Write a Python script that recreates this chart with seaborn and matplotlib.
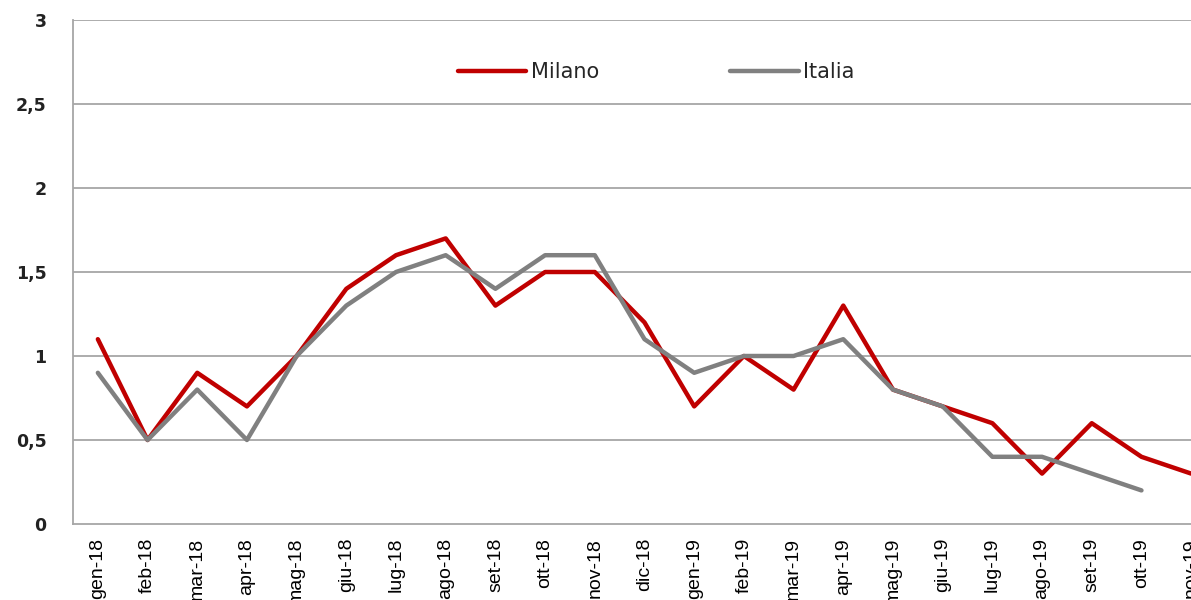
import numpy as np
import pandas as pd
import matplotlib
matplotlib.use("Agg")
import matplotlib.pyplot as plt
import seaborn as sns

months = ["gen-18", "feb-18", "mar-18", "apr-18", "mag-18", "giu-18", "lug-18", "ago-18",
          "set-18", "ott-18", "nov-18", "dic-18", "gen-19", "feb-19", "mar-19", "apr-19",
          "mag-19", "giu-19", "lug-19", "ago-19", "set-19", "ott-19", "nov-19"]
milano = [1.1, 0.5, 0.9, 0.7, 1.0, 1.4, 1.6, 1.7, 1.3, 1.5, 1.5, 1.2,
          0.7, 1.0, 0.8, 1.3, 0.8, 0.7, 0.6, 0.3, 0.6, 0.4, 0.3]
italia = [0.9, 0.5, 0.8, 0.5, 1.0, 1.3, 1.5, 1.6, 1.4, 1.6, 1.6, 1.1,
          0.9, 1.0, 1.0, 1.1, 0.8, 0.7, 0.4, 0.4, 0.3, 0.2, np.nan]
y_ticks = [0, 0.5, 1, 1.5, 2, 2.5, 3]

sns.set_style("white")
plt.rcParams['font.family'] = ['DejaVu Sans']

pos = np.arange(len(months))
df = pd.DataFrame({
    "pos": np.concatenate([pos, pos]),
    "value": milano + italia,
    "serie": ["Milano"] * len(months) + ["Italia"] * len(months),
})

fig = plt.figure(figsize=(11.91, 6), dpi=100)
# plot area runs off the right edge like the original
ax = fig.add_axes([73 / 1191, 76 / 600, 1143 / 1191, 504 / 600])

grid_c = "#a6a6a6"
for y in y_ticks[1:]:
    ax.axhline(y, color=grid_c, lw=1.3, zorder=0)

sns.lineplot(data=df, x="pos", y="value", hue="serie",
             palette={"Milano": "#c00000", "Italia": "#808080"},
             linewidth=3.2, ax=ax, legend=False, zorder=3)

ax.set_xlim(-0.5, len(months) - 0.5)
ax.set_ylim(0, 3)
ax.set_xlabel("")
ax.set_ylabel("")

ax.set_yticks(y_ticks)
ax.set_yticklabels([f"{v:g}".replace(".", ",") for v in y_ticks],
                   family="DejaVu Sans", fontweight="bold", fontsize=12.5, color="#222222")
ax.tick_params(axis="y", length=0, pad=19)

ax.set_xticks(pos)
ax.set_xticklabels(months, rotation=90, family="Liberation Sans", fontsize=14, color="black")
ax.set_xticks(np.arange(len(months) + 1) - 0.5, minor=True)
ax.tick_params(axis="x", which="major", length=0, pad=10)
ax.tick_params(axis="x", which="minor", length=6, color=grid_c, width=1.3, direction="out")

for side in ["top", "right"]:
    ax.spines[side].set_visible(False)
for side in ["left", "bottom"]:
    ax.spines[side].set_color(grid_c)
    ax.spines[side].set_linewidth(1.3)

handles = [plt.Line2D([], [], color="#c00000", lw=3.2),
           plt.Line2D([], [], color="#808080", lw=3.2)]
fig.legend(handles, ["Milano", "Italia"], loc="center", bbox_to_anchor=(656 / 1191, 1 - 72 / 600),
           ncol=2, frameon=False, fontsize=15, handlelength=3.3, handletextpad=0.2,
           columnspacing=6.3)

fig.savefig("out.png", dpi=100)
